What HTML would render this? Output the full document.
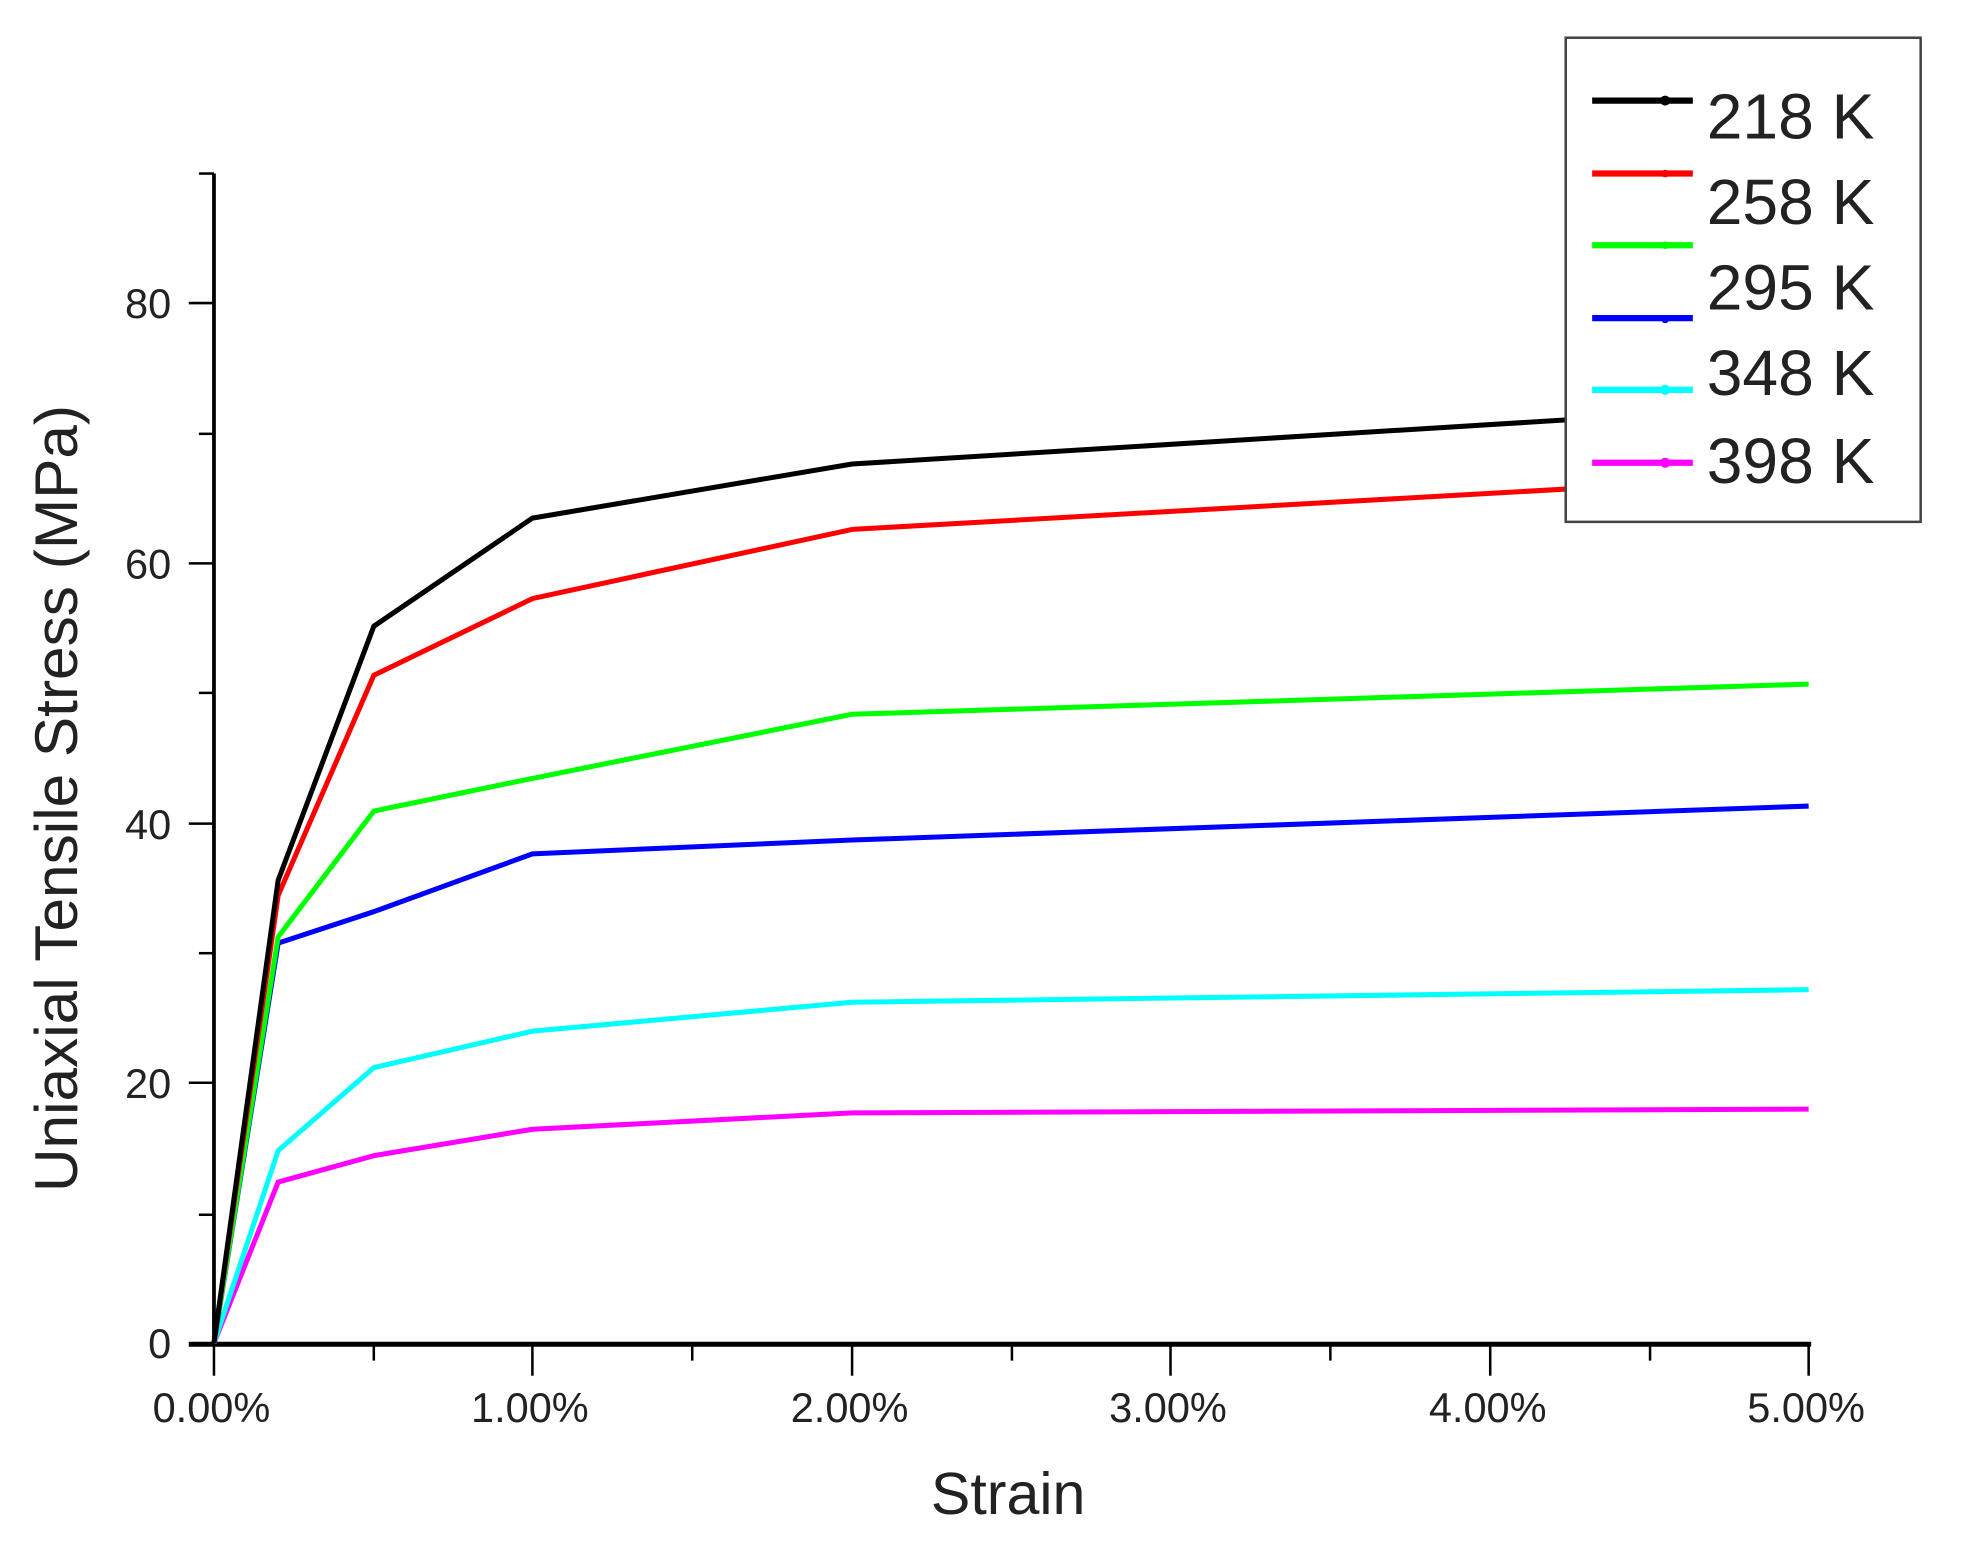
<!DOCTYPE html>
<html><head><meta charset="utf-8"><style>
html,body{margin:0;padding:0;background:#fff;}
svg{display:block;}
text{font-family:"Liberation Sans",Arial,sans-serif;fill:#222;}
</style></head><body>
<svg width="1971" height="1548" viewBox="0 0 1566 1231" preserveAspectRatio="none" xmlns="http://www.w3.org/2000/svg">
<rect width="1600" height="1240" fill="#fff"/>
<g stroke="#000" fill="none">
<line x1="170" y1="138" x2="170" y2="1070" stroke-width="3"/>
<line x1="150" y1="1069" x2="1439" y2="1069" stroke-width="4"/>
<g stroke-width="2">
<line x1="150" y1="861" x2="170" y2="861"/><line x1="150" y1="655" x2="170" y2="655"/>
<line x1="150" y1="448" x2="170" y2="448"/><line x1="150" y1="241" x2="170" y2="241"/>
<line x1="158" y1="966" x2="170" y2="966"/><line x1="158" y1="758" x2="170" y2="758"/>
<line x1="158" y1="551" x2="170" y2="551"/><line x1="158" y1="345" x2="170" y2="345"/>
<line x1="158" y1="138" x2="170" y2="138"/>
<line x1="170" y1="1069" x2="170" y2="1094"/><line x1="423" y1="1069" x2="423" y2="1094"/>
<line x1="677" y1="1069" x2="677" y2="1094"/><line x1="930" y1="1069" x2="930" y2="1094"/>
<line x1="1184" y1="1069" x2="1184" y2="1094"/><line x1="1437" y1="1069" x2="1437" y2="1094"/>
<line x1="297" y1="1069" x2="297" y2="1082"/><line x1="550" y1="1069" x2="550" y2="1082"/>
<line x1="804" y1="1069" x2="804" y2="1082"/><line x1="1057" y1="1069" x2="1057" y2="1082"/>
<line x1="1311" y1="1069" x2="1311" y2="1082"/>
</g></g>
<g font-size="33" text-anchor="end">
<text x="136" y="1080">0</text><text x="136" y="873">20</text><text x="136" y="667">40</text>
<text x="136" y="460">60</text><text x="136" y="253">80</text>
</g>
<g font-size="33" text-anchor="middle">
<text x="168" y="1131">0.00%</text><text x="421" y="1131">1.00%</text><text x="675" y="1131">2.00%</text>
<text x="928" y="1131">3.00%</text><text x="1182" y="1131">4.00%</text><text x="1435" y="1131">5.00%</text>
</g>
<text x="801" y="1204" font-size="47" text-anchor="middle">Strain</text>
<text transform="translate(61,635) rotate(-90)" font-size="48" text-anchor="middle">Uniaxial Tensile Stress (MPa)</text>
<g fill="none" stroke-width="4" stroke-linejoin="round">
<polyline stroke="#ff00ff" points="170,1068 221,940 297,919 423,898 677,885 1437,882"/>
<polyline stroke="#00ffff" points="170,1068 221,915 297,849 423,820 677,797 1437,787"/>
<polyline stroke="#0000ff" points="170,1068 221,750 297,725 423,679 677,668 1437,641"/>
<polyline stroke="#00ff00" points="170,1068 221,745 297,645 423,619 677,568 1437,544"/>
<polyline stroke="#ff0000" points="170,1068 221,712 297,537 423,476 677,421 1437,378"/>
<polyline stroke="#000000" points="170,1068 221,700 297,498 423,412 677,369 1437,322"/>
</g>
<rect x="1244" y="30" width="282" height="385" fill="#fff" stroke="#444" stroke-width="2"/>
<g stroke-width="5">
<line x1="1265" y1="80" x2="1345" y2="80" stroke="#000"/>
<line x1="1265" y1="138" x2="1345" y2="138" stroke="#ff0000"/>
<line x1="1265" y1="195" x2="1345" y2="195" stroke="#00ff00"/>
<line x1="1265" y1="253" x2="1345" y2="253" stroke="#0000ff"/>
<line x1="1265" y1="310" x2="1345" y2="310" stroke="#00ffff"/>
<line x1="1265" y1="368" x2="1345" y2="368" stroke="#ff00ff"/>
</g>
<circle cx="1323" cy="80" r="4" fill="#000"/>
<circle cx="1323" cy="138" r="3" fill="#f00"/>
<circle cx="1323" cy="195" r="3" fill="#0f0"/>
<circle cx="1323" cy="254" r="3" fill="#00f"/>
<circle cx="1323" cy="310" r="4" fill="#0ff"/>
<circle cx="1323" cy="368" r="4" fill="#f0f"/>
<g font-size="51" fill="#000">
<text x="1356" y="110">218 K</text><text x="1356" y="178">258 K</text><text x="1356" y="246">295 K</text>
<text x="1356" y="314">348 K</text><text x="1356" y="384">398 K</text>
</g>
</svg>
</body></html>
